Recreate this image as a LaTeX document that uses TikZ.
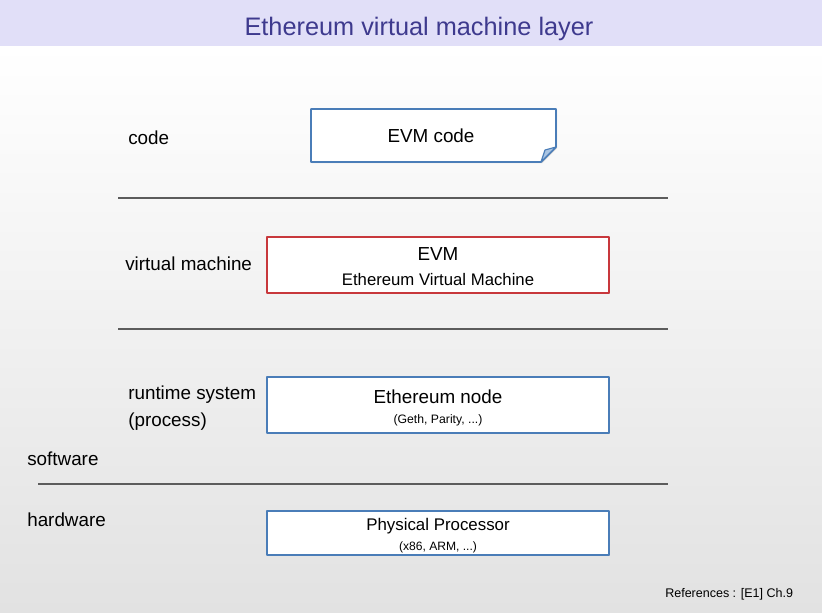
\documentclass[tikz,border=0pt]{standalone}
\usepackage{fontspec}
\setmainfont{Liberation Sans}
\usetikzlibrary{shadows}
\definecolor{bandcol}{HTML}{E1DFF8}
\definecolor{titlecol}{HTML}{3E3A8E}
\definecolor{boxblue}{HTML}{4A7DB8}
\definecolor{foldblue}{HTML}{A9C4E2}
\definecolor{boxred}{HTML}{C8383C}
\definecolor{rulegray}{HTML}{5C5C5C}
\definecolor{bggray}{HTML}{E2E2E2}
\begin{document}
\begin{tikzpicture}[x=0.025cm,y=-0.025cm,line join=round,
  shade box/.style={drop shadow={opacity=.3,shadow xshift=.8pt,shadow yshift=-.8pt}},
  layerbox/.style={draw=boxblue,line width=1.1pt,fill=white,shade box,minimum width=8.55cm,inner sep=0pt},
  rule/.style={draw=rulegray,line width=.8pt},
  bigtext/.style={font=\fontsize{13.4}{16}\selectfont,inner sep=0pt},
  midtext/.style={font=\fontsize{11.9}{14}\selectfont,inner sep=0pt,anchor=base},
  smalltext/.style={font=\fontsize{8.7}{10}\selectfont,inner sep=0pt,anchor=base},
  tagtext/.style={bigtext,anchor=base west}]
\useasboundingbox (0,0) rectangle (822,612);
\shade[top color=white,bottom color=bggray] (0,46) rectangle (822,612);
\fill[bandcol] (0,0) rectangle (822,46);
\node[anchor=base,text=titlecol,font=\fontsize{18}{22}\selectfont] (title) at (419,35) {Ethereum virtual machine layer};

\filldraw[draw=boxblue,line width=1.1pt,fill=white,shade box](311,109)--(556,109)--(556,147)--(541,162)--(311,162)--cycle;
\filldraw[draw=boxblue,line width=.8pt,fill=foldblue](541,162)--(545,150)--(556,147)--cycle;
\node[bigtext,anchor=base] (evmcode) at (431,142.5) {EVM code};

\node[layerbox,draw=boxred,minimum height=1.4cm] (evm) at (438,265) {};
\node[layerbox,minimum height=1.4cm] (node) at (438,405) {};
\node[layerbox,minimum height=1.1cm] (cpu) at (438,533) {};

    \node[bigtext,anchor=base] (evmname) at (438,260.7) {EVM};
    \node[midtext] (evmsub) at (438,285) {Ethereum Virtual Machine};
    \node[bigtext,anchor=base] (nodename) at (438,403.3) {Ethereum node};
    \node[smalltext] (nodesub) at (438,423.3) {(Geth, Parity, ...)};
    \node[midtext,font=\fontsize{12}{14}\selectfont] (cpuname) at (438,530.7) {Physical Processor};
    \node[smalltext,font=\fontsize{8.6}{10}\selectfont] (cpusub) at (438,550) {(x86, ARM, ...)};

\draw[rule](118,198)--(668,198);
\draw[rule](118,329)--(668,329);
\draw[rule](38,484)--(668,484);

    \node[tagtext] (tcode) at (128,144) {code};
    \node[tagtext] (tvm) at (125,270) {virtual machine};
    \node[tagtext] (trun) at (128,399.5) {runtime system};
    \node[tagtext] (tproc) at (128,426) {(process)};
    \node[tagtext] (tsoft) at (27,465) {software};
    \node[tagtext] (thard) at (27,526) {hardware};
    \node[anchor=base west,inner sep=0pt,font=\fontsize{8.9}{10}\selectfont] (refs) at (665,597) {References : [E1] Ch.9};
  \end{tikzpicture}
\end{document}
